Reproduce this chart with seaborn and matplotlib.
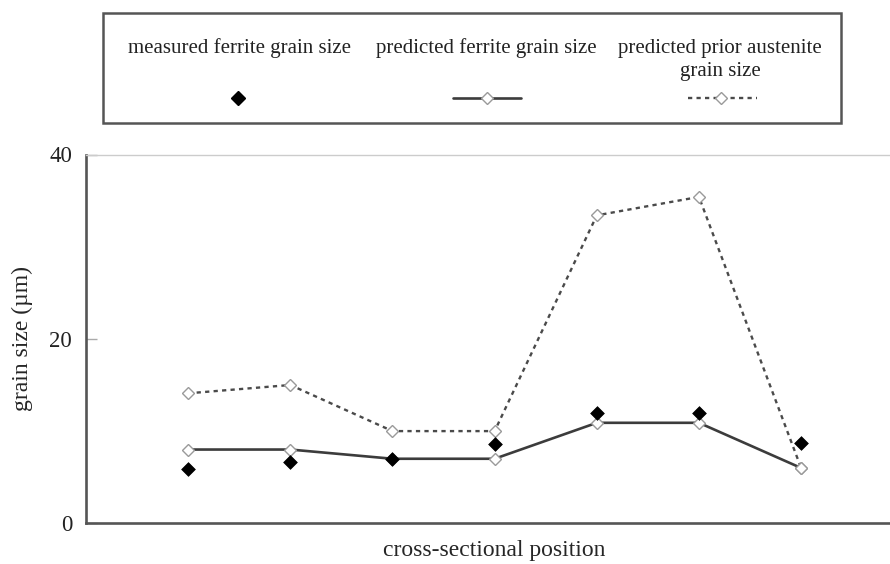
import matplotlib
matplotlib.use("Agg")
import matplotlib.pyplot as plt
import seaborn as sns
from matplotlib.lines import Line2D
from matplotlib.patches import Rectangle

# cross-sectional positions and grain sizes (µm)
positions = [1, 2, 3, 4, 5, 6, 7]
measured_ferrite = [5.9, 6.7, 7.0, 8.6, 12.0, 12.0, 8.7]
predicted_ferrite = [8.0, 8.0, 7.0, 7.0, 10.9, 10.9, 6.0]
predicted_austenite = [14.1, 15.0, 10.0, 10.0, 33.4, 35.4, 6.0]

series_labels = ["measured ferrite grain size",
                 "predicted ferrite grain size",
                 "predicted prior austenite\ngrain size"]
y_ticks = [0, 20, 40]
x_label = "cross-sectional position"
y_label = "grain size (µm)"

sns.set_style("white")
plt.rcParams["font.family"] = ["Liberation Serif", "DejaVu Serif"]
plt.rcParams["text.color"] = "#222222"

W, H = 890, 564
fig = plt.figure(figsize=(W / 100, H / 100), dpi=100)


def fx(px):
    return px / W


def fy(py):
    return 1 - py / H


ax = fig.add_axes([fx(86), fy(523.3), fx(890 - 86), (523.3 - 154.5) / H])

line_col = "#3c3c3c"
dash_col = "#4a4a4a"
open_edge = "#9a9a9a"
open_ms = 5.8
solid_ms = 7.0

sns.lineplot(x=positions, y=predicted_austenite, ax=ax, color=dash_col,
             linewidth=1.7, linestyle=(0, (1.8, 1.8)), marker="D",
             markersize=open_ms, markerfacecolor="white",
             markeredgecolor=open_edge, markeredgewidth=1.0, zorder=3)
sns.lineplot(x=positions, y=predicted_ferrite, ax=ax, color=line_col,
             linewidth=1.9, marker="D", markersize=open_ms,
             markerfacecolor="white", markeredgecolor=open_edge,
             markeredgewidth=1.0, zorder=4)
sns.scatterplot(x=positions, y=measured_ferrite, ax=ax, marker="D",
                s=solid_ms ** 2, color="black", edgecolor="black",
                linewidth=0.5, zorder=5)

ax.set_xlim(0, 7.87)
ax.set_ylim(0, 40)
ax.set_xticks([])
ax.set_yticks(y_ticks)
ax.tick_params(axis="y", direction="in", length=8, width=1, color="#aaaaaa",
               labelsize=16.5, pad=10, left=True)
for lbl in ax.get_yticklabels():
    lbl.set_color("#222222")

for side in ("left", "bottom"):
    ax.spines[side].set_color("#555555")
    ax.spines[side].set_linewidth(1.9)
ax.spines["top"].set_color("#cccccc")
ax.spines["top"].set_linewidth(1.0)
ax.spines["right"].set_visible(False)

ax.set_xlabel(x_label, fontsize=17)
ax.xaxis.set_label_coords(0.508, -0.045)
ax.set_ylabel(y_label, fontsize=17)
ax.yaxis.set_label_coords(-0.066, 0.5)

# legend panel
fig.add_artist(Rectangle((fx(102.7), fy(123.3)), fx(841 - 102.7),
                         (123.3 - 12.7) / H, transform=fig.transFigure,
                         fill=False, edgecolor="#555555", linewidth=1.8))

fig.text(fx(240), fy(52.7), series_labels[0], ha="center", va="baseline",
         fontsize=15)
fig.text(fx(486.5), fy(52.7), series_labels[1], ha="center", va="baseline",
         fontsize=15)
first, second = series_labels[2].split("\n")
fig.text(fx(720), fy(52.7), first, ha="center", va="baseline", fontsize=15)
fig.text(fx(720), fy(76), second, ha="center", va="baseline", fontsize=15)

ky = fy(98)
fig.add_artist(Line2D([fx(238.3)], [ky], transform=fig.transFigure,
                      marker="D", markersize=solid_ms, color="black",
                      linestyle="none"))
fig.add_artist(Line2D([fx(453), fx(521)], [ky, ky], transform=fig.transFigure,
                      color=line_col, linewidth=1.9))
fig.add_artist(Line2D([fx(487)], [ky], transform=fig.transFigure, marker="D",
                      markersize=open_ms, markerfacecolor="white",
                      markeredgecolor=open_edge, markeredgewidth=1.0,
                      linestyle="none"))
fig.add_artist(Line2D([fx(688), fx(757)], [ky, ky], transform=fig.transFigure,
                      color=dash_col, linewidth=1.7,
                      linestyle=(0, (1.8, 1.8))))
fig.add_artist(Line2D([fx(721)], [ky], transform=fig.transFigure, marker="D",
                      markersize=open_ms, markerfacecolor="white",
                      markeredgecolor=open_edge, markeredgewidth=1.0,
                      linestyle="none"))

fig.savefig("out.png", dpi=100, facecolor="white")
